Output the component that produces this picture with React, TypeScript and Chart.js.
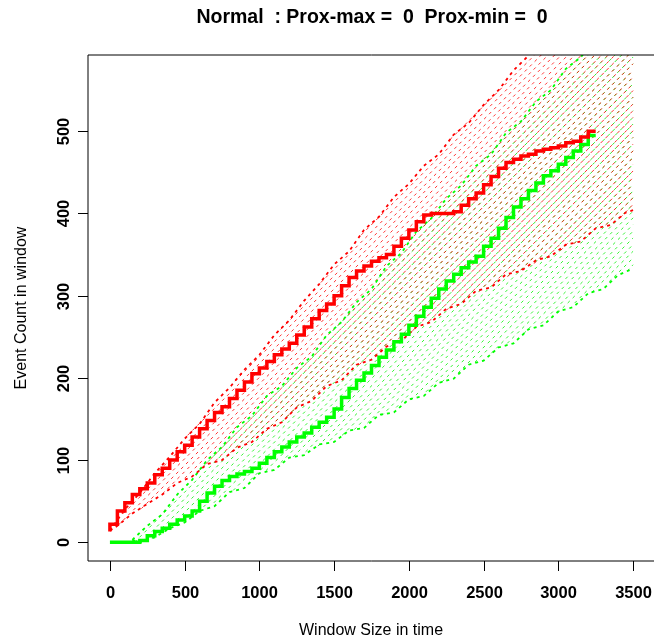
import React, { useEffect, useRef } from "react";
import { Chart, registerables } from "chart.js";

Chart.register(...registerables);

const TITLE = "Normal  : Prox-max =  0  Prox-min =  0";
const X_LABEL = "Window Size in time";
const Y_LABEL = "Event Count in window";
const xTicks = [0, 500, 1000, 1500, 2000, 2500, 3000, 3500];
const yTicks = [0, 100, 200, 300, 400, 500];

const windowSizes = [0, 50, 100, 150, 200, 250, 300, 350, 400, 450, 500, 550, 600, 650, 700, 750, 800, 850, 900, 950, 1000, 1050, 1100, 1150, 1200, 1250, 1300, 1350, 1400, 1450, 1500, 1550, 1600, 1650, 1700, 1750, 1800, 1850, 1900, 1950, 2000, 2050, 2100, 2150, 2200, 2250, 2300, 2350, 2400, 2450, 2500, 2550, 2600, 2650, 2700, 2750, 2800, 2850, 2900, 2950, 3000, 3050, 3100, 3150, 3200, 3250];
const maxCounts = [13, 22, 38, 48, 58, 65, 72, 82, 90, 100, 110, 118, 128, 138, 148, 158, 165, 175, 185, 195, 205, 212, 220, 228, 235, 242, 252, 262, 272, 282, 290, 300, 312, 322, 330, 336, 342, 346, 350, 360, 370, 380, 390, 398, 400, 400, 400, 402, 410, 418, 425, 435, 445, 455, 462, 466, 470, 472, 476, 478, 480, 482, 486, 488, 493, 500];
const minCounts = [0, 0, 0, 0, 0, 2, 8, 13, 17, 22, 27, 32, 38, 50, 60, 68, 75, 80, 83, 86, 90, 96, 103, 110, 116, 122, 128, 133, 140, 146, 152, 162, 176, 187, 197, 206, 215, 225, 234, 244, 253, 264, 275, 286, 297, 308, 318, 326, 334, 341, 348, 360, 370, 382, 395, 408, 418, 428, 437, 446, 452, 460, 468, 476, 484, 495];

// envelope borders of the two shaded bands
const redUpperX = [0, 100, 200, 300, 400, 500, 600, 700, 800, 900, 1000, 1100, 1200, 1300, 1400, 1500, 1600, 1700, 1800, 1900, 2000, 2100, 2200, 2300, 2400, 2500, 2600, 2700, 2800, 2900];
const redUpperY = [14, 40, 60, 84, 104, 126, 144, 170, 188, 210, 228, 252, 270, 294, 314, 338, 354, 380, 396, 420, 436, 458, 472, 496, 510, 532, 550, 574, 592, 614];
const redLowerX = [0, 50, 150, 270, 350, 450, 550, 650, 750, 850, 950, 1050, 1150, 1250, 1350, 1450, 1550, 1650, 1750, 1850, 1950, 2050, 2150, 2250, 2350, 2450, 2550, 2650, 2750, 2850, 2950, 3050, 3150, 3250, 3350, 3450, 3500];
const redLowerY = [14, 20, 35, 49, 58, 72, 80, 95, 100, 115, 122, 138, 146, 164, 172, 190, 197, 216, 222, 238, 245, 262, 268, 284, 290, 306, 310, 326, 330, 343, 348, 362, 366, 382, 386, 401, 404];
const greenUpperX = [150, 250, 350, 450, 550, 650, 750, 850, 950, 1050, 1150, 1250, 1350, 1450, 1550, 1650, 1750, 1850, 1950, 2050, 2150, 2250, 2350, 2450, 2550, 2650, 2750, 2850, 2950, 3050, 3150, 3250];
const greenUpperY = [3, 20, 34, 58, 76, 100, 116, 140, 154, 178, 190, 212, 226, 252, 268, 292, 308, 336, 352, 378, 394, 418, 434, 458, 472, 498, 512, 536, 550, 576, 590, 614];
const greenLowerX = [150, 200, 300, 400, 500, 600, 700, 800, 900, 1000, 1100, 1200, 1300, 1400, 1500, 1600, 1700, 1800, 1900, 2000, 2100, 2200, 2300, 2400, 2500, 2600, 2700, 2800, 2900, 3000, 3100, 3200, 3300, 3400, 3500];
const greenLowerY = [3, 0, 6, 17, 24, 38, 44, 61, 66, 84, 88, 103, 106, 119, 122, 136, 139, 155, 158, 174, 178, 194, 199, 216, 221, 237, 242, 259, 264, 281, 286, 303, 308, 325, 333];

// 45-degree hatch lines inside each band: start on the band border, end at x = 3500
const HATCH_END_X = 3500;
const redHatchStartX = [2276, 1682, 1411, 1142, 836, 519, 295, 90, 57, 211, 352, 501, 606, 706, 807, 920, 1042, 1185, 1357, 1515, 1668, 1772, 1895, 2023, 2136, 2250, 2364, 2468, 2567, 2660, 2749, 2838, 2926, 3015, 3104, 3205, 3316, 3415];
const redHatchStartY = [490, 374, 316, 259, 196, 130, 81, 35, 21, 41, 59, 78, 89, 99, 109, 121, 135, 153, 176, 197, 216, 227, 241, 257, 269, 282, 294, 305, 315, 323, 331, 339, 347, 355, 363, 374, 386, 395];
const redHatchEndY = [712.5, 704.4, 696.2, 688.1, 679.9, 671.8, 663.6, 655.5, 647.3, 639.2, 631, 622.9, 614.7, 606.6, 598.4, 590.3, 582.1, 574, 565.8, 557.7, 549.5, 541.4, 533.2, 525.1, 516.9, 508.8, 500.6, 492.5, 484.3, 476.2, 468, 459.9, 451.7, 443.6, 435.4, 427.3, 419.1, 411];
const greenHatchStartX = [3119, 2500, 2063, 1800, 1489, 590, 165, 215, 281, 382, 488, 593, 695, 824, 942, 1043, 1143, 1226, 1309, 1392, 1473, 1553, 1634, 1723, 1818, 1915, 2014, 2114, 2221, 2329, 2442, 2552, 2658, 2769, 2883, 2996, 3109, 3223, 3340, 3461];
const greenHatchStartY = [586, 466, 378, 322, 257, 86, 0, 1, 5, 15, 26, 37, 48, 63, 76, 87, 97, 104, 110, 117, 124, 130, 137, 145, 154, 164, 173, 183, 195, 206, 219, 230, 242, 254, 266, 279, 291, 304, 317, 330];
const greenHatchEndY = [655.5, 647.3, 639.2, 631, 622.9, 614.7, 606.6, 598.4, 590.3, 582.1, 574, 565.8, 557.7, 549.5, 541.4, 533.2, 525.1, 516.9, 508.8, 500.6, 492.5, 484.3, 476.2, 468, 459.9, 451.7, 443.6, 435.4, 427.3, 419.1, 411, 402.8, 394.7, 386.5, 378.4, 370.2, 362.1, 354, 345.8, 337.6];

const RED = "#FF0000";
const GREEN = "#00FF00";
const RED_HATCH = "rgba(255,0,0,0.8)";
const GREEN_HATCH = "rgba(0,240,0,0.8)";
const FONT = "'Liberation Sans', Arial, Helvetica, sans-serif";

const pts = (xs: number[], ys: number[]) => xs.map((x, i) => ({ x, y: ys[i] }));

const rPlot = {
  id: "rPlot",
  beforeDraw(chart: any) {
    const ctx = chart.ctx;
    ctx.save();
    ctx.fillStyle = "#ffffff";
    ctx.fillRect(0, 0, chart.width, chart.height);
    ctx.restore();
  },
  afterDraw(chart: any) {
    const { ctx, chartArea: a } = chart;
    const xs = chart.scales.x;
    const ys = chart.scales.y;
    ctx.save();
    ctx.strokeStyle = "#000";
    ctx.lineWidth = 1;
    ctx.beginPath();
    ctx.moveTo(a.right + 2, 55);
    ctx.lineTo(88, 55);
    ctx.lineTo(88, 561);
    ctx.lineTo(a.right + 2, 561);
    ctx.stroke();
    ctx.fillStyle = "#000";
    ctx.font = `bold 16.5px ${FONT}`;
    ctx.textAlign = "center";
    ctx.textBaseline = "alphabetic";
    xTicks.forEach((v) => {
      const px = Math.round(xs.getPixelForValue(v)) + 0.5;
      ctx.beginPath();
      ctx.moveTo(px, 561);
      ctx.lineTo(px, 571);
      ctx.stroke();
      ctx.fillText(String(v), px, 598);
    });
    yTicks.forEach((v) => {
      const py = Math.round(ys.getPixelForValue(v)) + 0.5;
      ctx.beginPath();
      ctx.moveTo(88, py);
      ctx.lineTo(78, py);
      ctx.stroke();
      ctx.save();
      ctx.translate(69, py);
      ctx.rotate(-Math.PI / 2);
      ctx.fillText(String(v), 0, 0);
      ctx.restore();
    });
    ctx.font = `16px ${FONT}`;
    ctx.fillText(X_LABEL, 371, 635);
    ctx.save();
    ctx.translate(26, 308);
    ctx.rotate(-Math.PI / 2);
    ctx.fillText(Y_LABEL, 0, 0);
    ctx.restore();
    ctx.font = `bold 19.5px ${FONT}`;
    ctx.fillText(TITLE, 372, 23);
    ctx.restore();
  },
};

export default function App() {
  const ref = useRef<HTMLCanvasElement>(null);
  useEffect(() => {
    const canvas = ref.current;
    if (!canvas) return;
    const datasets: any[] = [];
    datasets.push({ data: pts(windowSizes, maxCounts), borderColor: RED, borderWidth: 3.5, stepped: "after" });
    datasets.push({ data: pts(windowSizes, minCounts), borderColor: GREEN, borderWidth: 3.5, stepped: "after" });
    datasets.push({ data: pts(redUpperX, redUpperY), borderColor: RED, borderWidth: 1.8, borderDash: [3, 4] });
    datasets.push({ data: pts(redLowerX, redLowerY), borderColor: RED, borderWidth: 1.8, borderDash: [3, 4] });
    datasets.push({ data: pts(greenUpperX, greenUpperY), borderColor: GREEN, borderWidth: 1.8, borderDash: [3, 4] });
    datasets.push({ data: pts(greenLowerX, greenLowerY), borderColor: GREEN, borderWidth: 1.8, borderDash: [3, 4] });
    redHatchStartX.forEach((x0, i) => {
      datasets.push({
        data: [
          { x: x0, y: redHatchStartY[i] },
          { x: HATCH_END_X, y: redHatchEndY[i] },
        ],
        borderColor: RED_HATCH,
        borderWidth: 1,
        borderDash: [3, 4],
      });
    });
    greenHatchStartX.forEach((x0, i) => {
      datasets.push({
        data: [
          { x: x0, y: greenHatchStartY[i] },
          { x: HATCH_END_X, y: greenHatchEndY[i] },
        ],
        borderColor: GREEN_HATCH,
        borderWidth: 1,
        borderDash: [3, 4],
      });
    });
    datasets.forEach((d) => {
      d.fill = false;
      d.pointRadius = 0;
      d.tension = 0;
      d.clip = 0;
    });

    const chart = new Chart(canvas, {
      type: "line",
      data: { datasets },
      options: {
        responsive: false,
        animation: false,
        devicePixelRatio: 1,
        layout: { padding: { left: 89, top: 55, right: 0, bottom: 80 } },
        scales: {
          x: { type: "linear", min: -140, max: 3640, display: false },
          y: { type: "linear", min: -22.8, max: 592.8, display: false },
        },
        plugins: {
          legend: { display: false },
          tooltip: { enabled: false },
          title: { display: false },
        },
        events: [],
      },
      plugins: [rPlot],
    } as any);
    return () => chart.destroy();
  }, []);

  return (
    <div style={{ position: "fixed", left: 0, top: 0, width: 654, height: 641, background: "#fff", overflow: "hidden" }}>
      <canvas ref={ref} width={654} height={641} style={{ display: "block", width: 654, height: 641 }} />
    </div>
  );
}
